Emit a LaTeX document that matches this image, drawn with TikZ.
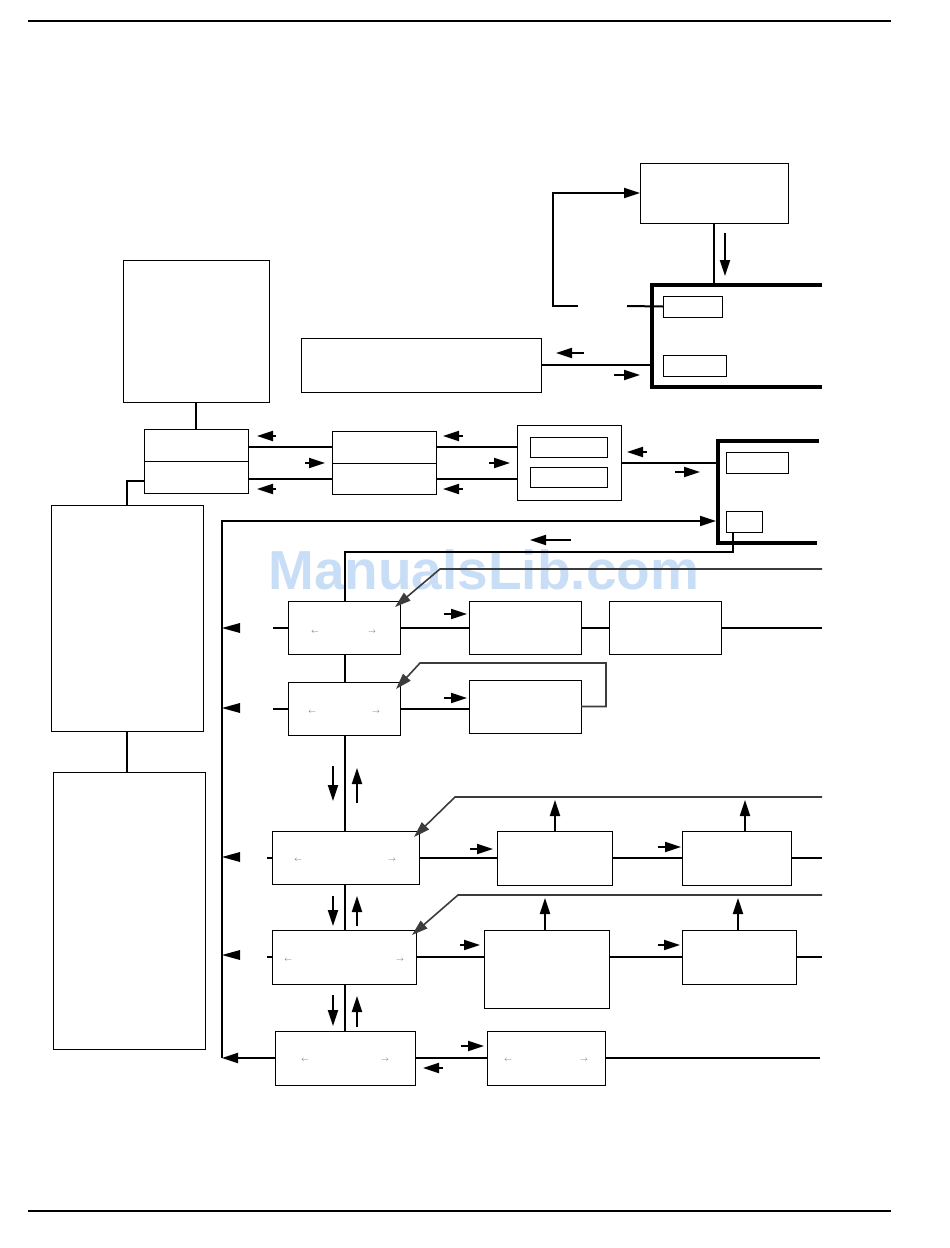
\documentclass[tikz,border=0pt]{standalone}
\usepackage{fontspec}
\newfontfamily\wmfont{Liberation Sans}
\usetikzlibrary{arrows.meta}
\definecolor{wmblue}{RGB}{200,221,246}
\definecolor{fbgray}{RGB}{60,60,60}
\newcommand{\mkbox}[6][]{\node[boxst,#1,minimum width={(#5)-(#3)},minimum height={(#6)-(#4)}] (#2) at ({((#3)+(#5))/2},{((#4)+(#6))/2}) {};}
\newcommand{\ltri}[1]{\fill (#1) -- ++(18,-5) -- ++(0,10) -- cycle;}
\begin{document}
\begin{tikzpicture}[x=1pt,y=-1pt,
  boxst/.style={draw,line width=0.9pt,inner sep=0pt,outer sep=0pt},
  conn/.style={line width=2pt},
  framest/.style={line width=3.2pt},
  fb/.style={line width=1.6pt,draw=fbgray},
  tip/.style={-{Triangle[length=16pt,width=10pt]}},
  mk/.style={line width=2pt,tip},
  sarr/.style={font=\fontsize{7}{7}\selectfont,text=black!60,inner sep=0pt}]
\useasboundingbox (0,0) rectangle (950,1248);
% watermark
\node[anchor=base west,inner sep=0pt,text=wmblue,font=\wmfont\bfseries\fontsize{55}{55}\selectfont] (wmk) at (268,589) {ManualsLib.com};
% rules
\draw[line width=2.5pt] (28,21) -- (891,21);
\draw[line width=2.5pt] (28,1211) -- (891,1211);
% boxes
\mkbox{A}{640}{163}{788}{223}
\mkbox{D}{123}{260}{269}{402}
\mkbox{C}{301}{338}{541}{392}
\mkbox{B1}{663}{296}{722}{317}
\mkbox{B2}{663}{355}{726}{376}
\mkbox{Et}{144}{429}{248}{461}
\mkbox{Eb}{144}{461}{248}{493}
\mkbox{Gt}{332}{431}{436}{463}
\mkbox{Gb}{332}{463}{436}{494}
\mkbox{H}{517}{425}{621}{500}
\mkbox{H1}{530}{437}{607}{457}
\mkbox{H2}{530}{467}{607}{487}
\mkbox{I1}{726}{452}{788}{473}
\mkbox{I2}{726}{511}{762}{532}
\mkbox{F}{51}{505}{203}{731}
\mkbox{X}{53}{772}{205}{1049}
\mkbox{J}{288}{601}{400}{654}
\mkbox{L}{469}{601}{581}{654}
\mkbox{M}{609}{601}{721}{654}
\mkbox{K}{288}{682}{400}{735}
\mkbox{N}{469}{680}{581}{733}
\mkbox{P}{272}{831}{419}{884}
\mkbox{Q}{497}{831}{612}{885}
\mkbox{R}{682}{831}{791}{885}
\mkbox{S}{272}{930}{416}{984}
\mkbox{T}{484}{930}{609}{1008}
\mkbox{U}{682}{930}{796}{984}
\mkbox{V}{275}{1031}{415}{1085}
\mkbox{W}{487}{1031}{605}{1085}
% small arrows in boxes
\node[sarr] (Jl) at (315,632) {$\leftarrow$}; \node[sarr] (Jr) at (372,632) {$\rightarrow$};
\node[sarr] (Kl) at (312,712) {$\leftarrow$}; \node[sarr] (Kr) at (376,712) {$\rightarrow$};
\node[sarr] (Pl) at (298,860) {$\leftarrow$}; \node[sarr] (Pr) at (392,860) {$\rightarrow$};
\node[sarr] (Sl) at (288,960) {$\leftarrow$}; \node[sarr] (Sr) at (400,960) {$\rightarrow$};
\node[sarr] (Vl) at (305,1060) {$\leftarrow$}; \node[sarr] (Vr) at (385,1060) {$\rightarrow$};
\node[sarr] (Wl) at (508,1060) {$\leftarrow$}; \node[sarr] (Wr) at (584,1060) {$\rightarrow$};
% thick open frames
\coordinate (f1a) at (822,285); \coordinate (f1b) at (652,285);
\coordinate (f1c) at (652,387); \coordinate (f1d) at (822,387);
\draw[framest] (f1a) -- (f1b) -- (f1c) -- (f1d);
\coordinate (f2a) at (819,441); \coordinate (f2b) at (718,441);
\coordinate (f2c) at (718,543); \coordinate (f2d) at (817,543);
\draw[framest] (f2a) -- (f2b) -- (f2c) -- (f2d);
% connectors top
\draw[conn] (A.south) -- (A.south |- f1b);
\coordinate (gapL) at (578,306); \coordinate (gapR) at (627,306); \coordinate (lpc) at (553,306);
\draw[conn] (B1.west) -- (gapR);
\draw[conn,tip] (gapL) -- (lpc) -- (lpc |- A.west) -- (A.west);
\draw[conn] (C.east) -- (C.east -| f1b);
\draw[conn] (D.south) -- (Et.north);
\draw[conn] ([yshift=-4pt]Eb.west) -| (F.north);
\draw[conn] (Gt.west) -- (Gt.west -| Et.east);
\draw[conn] (Gb.west) -- (Gb.west -| Eb.east);
\draw[conn] (Gt.east) -- (Gt.east -| H.west);
\draw[conn] (Gb.east) -- (Gb.east -| H.west);
\draw[conn] (H.east) -- (H.east -| f2b);
\draw[conn] (F.south) -- (F.south |- X.north);
% big loop
\coordinate (lc1) at (222,1058); \coordinate (lc2) at (222,521); \coordinate (lc3) at (716,521);
\draw[conn,tip] (V.west) -- (lc1);
\draw[conn,tip] (lc1) -- (lc2) -- (lc3);
% spine
\coordinate (sp1) at ([xshift=-11pt]I2.south);
\coordinate (sp2) at (345,552);
\draw[conn] (sp1) -- (sp1 |- sp2) -- (sp2) -- (sp2 |- J.north);
\draw[conn] (J.south -| sp2) -- (K.north -| sp2);
\draw[conn] (K.south -| sp2) -- (P.north -| sp2);
\draw[conn] (P.south -| sp2) -- (S.north -| sp2);
\draw[conn] (S.south -| sp2) -- (V.north -| sp2);
% row J
\coordinate (jr) at (822,628); \coordinate (jl) at (273,628);
\draw[conn] (J.east) -- (L.west);
\draw[conn] (L.east) -- (M.west);
\draw[conn] (M.east) -- (M.east -| jr);
\draw[conn] (J.west) -- (J.west -| jl);
\coordinate (fbj1) at (822,569); \coordinate (fbj2) at (440,569); \coordinate (fbj3) at (395,607);
\draw[fb,tip] (fbj1) -- (fbj2) -- (fbj3);
% row K
\coordinate (kl) at (273,708);
\draw[conn] (K.east) -- (K.east -| N.west);
\draw[conn] (K.west) -- (K.west -| kl);
\coordinate (fbk2) at (606,663); \coordinate (fbk3) at (420,663); \coordinate (fbk4) at (396,689);
\draw[fb,tip] (N.east) -- (N.east -| fbk2) -- (fbk2) -- (fbk3) -- (fbk4);
% row P
\coordinate (pr) at (822,857); \coordinate (pl) at (267,857);
\draw[conn] (P.east) -- (P.east -| Q.west);
\draw[conn] (Q.east |- R.west) -- (R.west);
\draw[conn] (R.east) -- (R.east -| pr);
\draw[conn] (P.west) -- (P.west -| pl);
\coordinate (qa) at (555,800); \coordinate (ra) at (745,800);
\draw[conn,tip] (Q.north -| qa) -- (qa);
\draw[conn,tip] (R.north -| ra) -- (ra);
\coordinate (fbp1) at (822,797); \coordinate (fbp2) at (455,797); \coordinate (fbp3) at (414,837);
\draw[fb,tip] (fbp1) -- (fbp2) -- (fbp3);
% row S
\coordinate (sr) at (822,957); \coordinate (sl) at (267,957);
\draw[conn] (S.east) -- (S.east -| T.west);
\draw[conn] (U.west -| T.east) -- (U.west);
\draw[conn] (U.east) -- (U.east -| sr);
\draw[conn] (S.west) -- (S.west -| sl);
\coordinate (ta) at (545,898); \coordinate (ua) at (738,898);
\draw[conn,tip] (T.north -| ta) -- (ta);
\draw[conn,tip] (U.north -| ua) -- (ua);
\coordinate (fbs1) at (822,895); \coordinate (fbs2) at (458,895); \coordinate (fbs3) at (412,935);
\draw[fb,tip] (fbs1) -- (fbs2) -- (fbs3);
% row V
\coordinate (wr) at (820,1058);
\draw[conn] (V.east) -- (W.west);
\draw[conn] (W.east) -- (W.east -| wr);
% markers
\draw[mk] (725,233) -- (725,276);
\draw[mk] (584,353) -- (556,353);
\draw[mk] (614,375) -- (640,375);
\draw[mk] (276,436) -- (257,436);
\draw[mk] (305,463) -- (325,463);
\draw[mk] (276,489) -- (257,489);
\draw[mk] (463,436) -- (443,436);
\draw[mk] (489,463) -- (510,463);
\draw[mk] (463,489) -- (443,489);
\draw[mk] (647,452) -- (627,452);
\draw[mk] (675,472) -- (700,472);
\draw[mk] (571,540) -- (530,540);
\draw[mk] (444,614) -- (467,614);
\draw[mk] (444,698) -- (467,698);
\draw[mk] (333,766) -- (333,801);
\draw[mk] (357,803) -- (357,768);
\draw[mk] (470,849) -- (493,849);
\draw[mk] (658,847) -- (681,847);
\draw[mk] (333,896) -- (333,926);
\draw[mk] (357,926) -- (357,896);
\draw[mk] (460,945) -- (480,945);
\draw[mk] (658,945) -- (680,945);
\draw[mk] (333,995) -- (333,1026);
\draw[mk] (357,1027) -- (357,996);
\draw[mk] (461,1046) -- (484,1046);
\draw[mk] (443,1068) -- (423,1068);
% left triangles
\coordinate (t1) at (222,628); \coordinate (t2) at (222,708);
\coordinate (t3) at (222,857); \coordinate (t4) at (222,955);
\ltri{t1} \ltri{t2} \ltri{t3} \ltri{t4}
\end{tikzpicture}
\end{document}
